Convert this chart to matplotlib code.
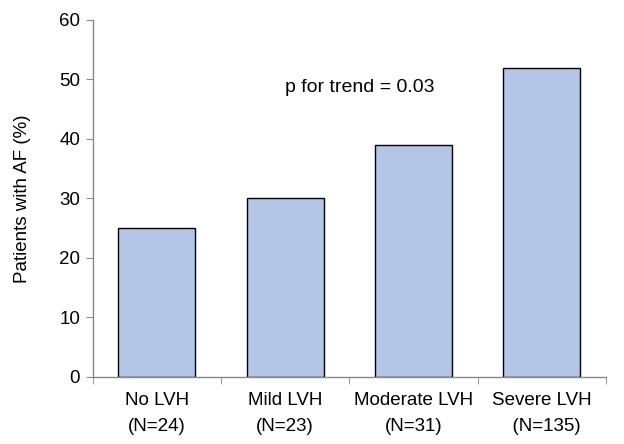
import numpy as np
import matplotlib.pyplot as plt

plt.rcParams['font.family'] = ['Liberation Sans', 'DejaVu Sans']

groups = ['No LVH', 'Mild LVH', 'Moderate LVH', 'Severe LVH']
counts = ['(N=24)', '(N=23)', '(N=31)', '  (N=135)']
af_pct = [25, 30, 39, 52]

fig = plt.figure(figsize=(6.24, 4.44), dpi=100)
ax = fig.add_axes([0.1486, 0.151, 0.8224, 0.804])

x = np.arange(len(groups))
ax.bar(x, af_pct, width=0.6, color='#b3c6e7', edgecolor='black', linewidth=1.0, zorder=2)

ax.set_xlim(-0.5, len(groups) - 0.5)
ax.set_ylim(0, 60)
ax.set_yticks(range(0, 61, 10))
ax.set_xticks(x)
ax.set_xticklabels([g + '\n' + n for g, n in zip(groups, counts)], linespacing=1.7)
ax.set_xticks(np.arange(-0.5, len(groups), 1), minor=True)
ax.tick_params(axis='x', which='major', length=0, pad=11, labelsize=13.5)
ax.tick_params(axis='x', which='minor', length=5, color='#888888', direction='out')
ax.tick_params(axis='y', length=5, color='#888888', labelsize=13.5, pad=4)

for side in ['top', 'right']:
    ax.spines[side].set_visible(False)
for side in ['left', 'bottom']:
    ax.spines[side].set_color('#888888')
    ax.spines[side].set_linewidth(1.0)

ax.set_ylabel('Patients with AF (%)', fontsize=13.5, labelpad=20)
ax.text(1.58, 48.6, 'p for trend = 0.03', fontsize=14, ha='center', va='center')

fig.savefig('out.png', dpi=100)
